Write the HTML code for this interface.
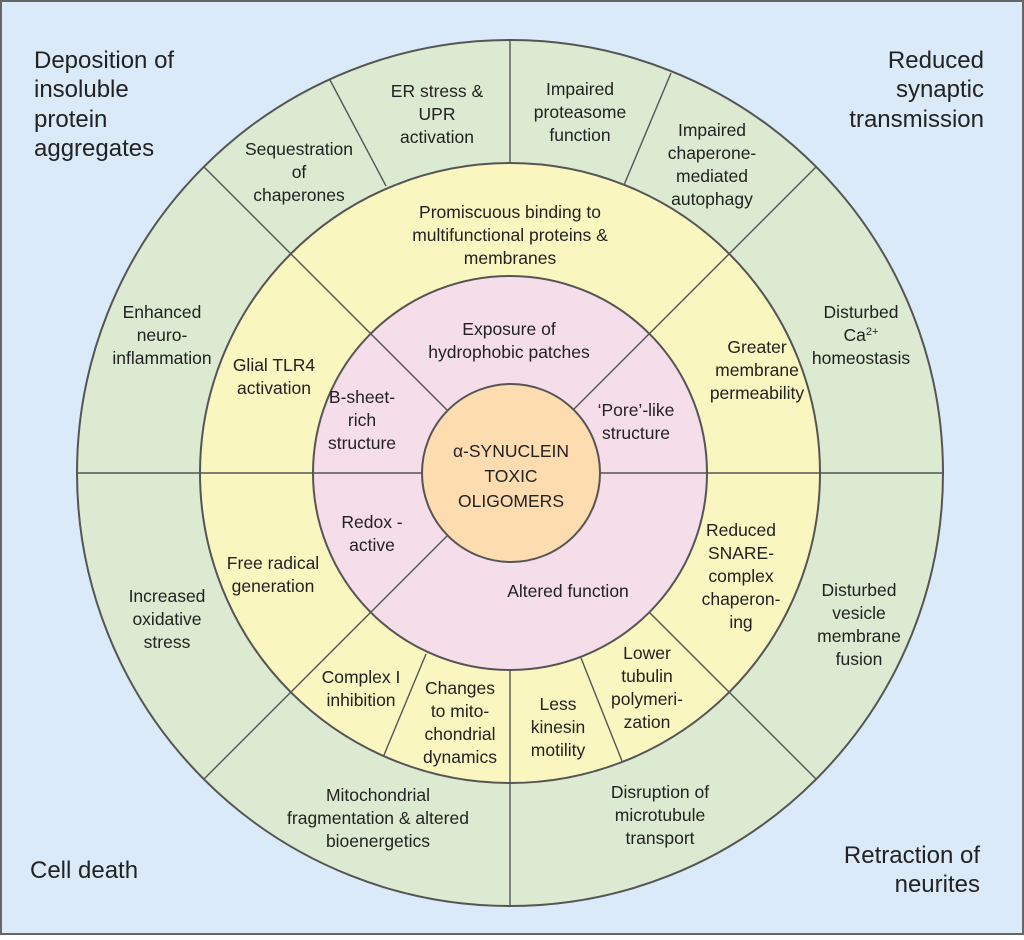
<!DOCTYPE html>
<html><head><meta charset="utf-8"><style>
body{margin:0;width:1024px;height:935px;overflow:hidden;background:#fff}
text{font-family:"Liberation Sans","DejaVu Sans",sans-serif;fill:#222;text-anchor:middle}
.s{font-size:17.5px}.b{font-size:24px;text-anchor:start}.e{font-size:24px;text-anchor:end}
</style></head><body>
<svg width="1024" height="935" viewBox="0 0 1024 935" xmlns="http://www.w3.org/2000/svg">
<rect x="1" y="1" width="1022" height="933" fill="#dbeaf8" stroke="#666" stroke-width="2"/>
<g stroke="#555" stroke-width="2">
<circle cx="510" cy="473" r="433" fill="#dbead0"/>
<circle cx="510" cy="473" r="310" fill="#faf6c0"/>
<circle cx="510" cy="473" r="197" fill="#f5dde9"/>
<circle cx="511" cy="473" r="89" fill="#fddcb0"/>
</g>
<g stroke="#555" stroke-width="1.4">
<line x1="77" y1="473" x2="422" y2="473"/><line x1="600" y1="473" x2="943" y2="473"/>
<line x1="447" y1="410" x2="204" y2="167"/><line x1="573" y1="410" x2="816" y2="167"/>
<line x1="447" y1="536" x2="204" y2="779"/><line x1="649" y1="612" x2="816" y2="779"/>
<line x1="510" y1="40" x2="510" y2="163"/><line x1="510" y1="670" x2="510" y2="906"/>
<line x1="330" y1="80" x2="386" y2="186"/><line x1="671" y1="73" x2="624" y2="185"/>
<line x1="426" y1="654" x2="384" y2="755"/><line x1="581" y1="658" x2="622" y2="761"/>
</g>
<text class="b" x="34" y="68">Deposition of</text>
<text class="b" x="34" y="97">insoluble</text>
<text class="b" x="34" y="127">protein</text>
<text class="b" x="34" y="156">aggregates</text>
<text class="e" x="984" y="68">Reduced</text>
<text class="e" x="984" y="97">synaptic</text>
<text class="e" x="984" y="127">transmission</text>
<text class="b" x="30" y="878">Cell death</text>
<text class="e" x="980" y="863">Retraction of</text>
<text class="e" x="980" y="892">neurites</text>
<g>
<text x="299" y="155" class="s">Sequestration</text><text x="299" y="178" class="s">of</text><text x="299" y="201" class="s">chaperones</text>
<text x="437" y="97" class="s">ER stress &amp;</text><text x="437" y="120" class="s">UPR</text><text x="437" y="143" class="s">activation</text>
<text x="580" y="95" class="s">Impaired</text><text x="580" y="118" class="s">proteasome</text><text x="580" y="141" class="s">function</text>
<text x="712" y="136" class="s">Impaired</text><text x="712" y="159" class="s">chaperone-</text><text x="712" y="182" class="s">mediated</text><text x="712" y="205" class="s">autophagy</text>
<text x="162" y="318" class="s">Enhanced</text><text x="162" y="341" class="s">neuro-</text><text x="162" y="364" class="s">inflammation</text>
<text x="861" y="318" class="s">Disturbed</text><text x="861" y="341" class="s">Ca<tspan font-size="11" dy="-6">2+</tspan></text><text x="861" y="364" class="s">homeostasis</text>
<text x="167" y="602" class="s">Increased</text><text x="167" y="625" class="s">oxidative</text><text x="167" y="648" class="s">stress</text>
<text x="859" y="596" class="s">Disturbed</text><text x="859" y="619" class="s">vesicle</text><text x="859" y="642" class="s">membrane</text><text x="859" y="665" class="s">fusion</text>
<text x="378" y="801" class="s">Mitochondrial</text><text x="378" y="824" class="s">fragmentation &amp; altered</text><text x="378" y="847" class="s">bioenergetics</text>
<text x="660" y="798" class="s">Disruption of</text><text x="660" y="821" class="s">microtubule</text><text x="660" y="844" class="s">transport</text>
<text x="510" y="218" class="s">Promiscuous binding to</text><text x="510" y="241" class="s">multifunctional proteins &amp;</text><text x="510" y="264" class="s">membranes</text>
<text x="274" y="371" class="s">Glial TLR4</text><text x="274" y="394" class="s">activation</text>
<text x="757" y="353" class="s">Greater</text><text x="757" y="376" class="s">membrane</text><text x="757" y="399" class="s">permeability</text>
<text x="273" y="569" class="s">Free radical</text><text x="273" y="592" class="s">generation</text>
<text x="741" y="536" class="s">Reduced</text><text x="741" y="559" class="s">SNARE-</text><text x="741" y="582" class="s">complex</text><text x="741" y="605" class="s">chaperon-</text><text x="741" y="628" class="s">ing</text>
<text x="361" y="683" class="s">Complex I</text><text x="361" y="706" class="s">inhibition</text>
<text x="460" y="694" class="s">Changes</text><text x="460" y="717" class="s">to mito-</text><text x="460" y="740" class="s">chondrial</text><text x="460" y="763" class="s">dynamics</text>
<text x="558" y="710" class="s">Less</text><text x="558" y="733" class="s">kinesin</text><text x="558" y="756" class="s">motility</text>
<text x="647" y="659" class="s">Lower</text><text x="647" y="682" class="s">tubulin</text><text x="647" y="705" class="s">polymeri-</text><text x="647" y="728" class="s">zation</text>
<text x="509" y="335" class="s">Exposure of</text><text x="509" y="358" class="s">hydrophobic patches</text>
<text x="362" y="403" class="s">B-sheet-</text><text x="362" y="426" class="s">rich</text><text x="362" y="449" class="s">structure</text>
<text x="636" y="416" class="s">‘Pore’-like</text><text x="636" y="439" class="s">structure</text>
<text x="372" y="528" class="s">Redox -</text><text x="372" y="551" class="s">active</text>
<text x="568" y="597" class="s">Altered function</text>
<text x="511" y="457" class="s">α-SYNUCLEIN</text><text x="511" y="482" class="s">TOXIC</text><text x="511" y="507" class="s">OLIGOMERS</text>
</g>
</svg>
</body></html>
